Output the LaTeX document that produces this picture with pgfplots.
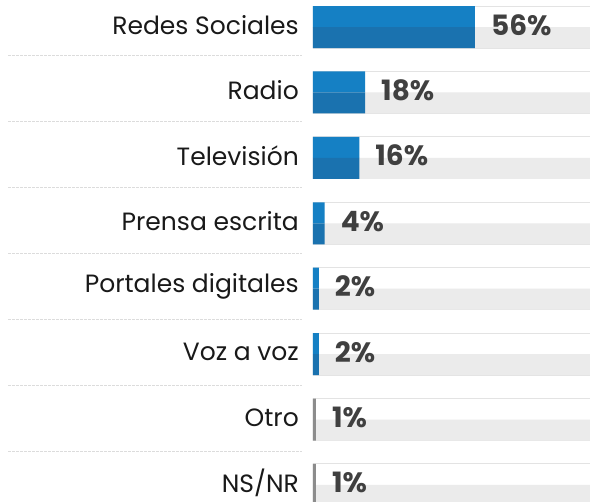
\documentclass[border=0pt]{standalone}
\usepackage{pgfplots}
\pgfplotsset{compat=1.18}
\usepackage{fontspec}
\setmainfont{Poppins}
\definecolor{bluetop}{HTML}{1580C4}
\definecolor{bluebot}{HTML}{1A72AF}
\definecolor{bgray}{HTML}{EBEBEB}
\definecolor{lline}{HTML}{E3E3E3}
\definecolor{dgray}{HTML}{404040}
\definecolor{sgray}{HTML}{8C8C8C}
\definecolor{dashc}{HTML}{DCDCDC}
\begin{document}
\begin{tikzpicture}
\useasboundingbox (0,0) rectangle (590pt,502pt);
\begin{axis}[
  at={(313pt,0pt)}, anchor=south west,
  scale only axis, width=277pt, height=502pt,
  xmin=0, xmax=95.8, ymin=-0.26, ymax=7.413,
  axis line style={draw=none}, tick style={draw=none},
  xtick=\empty,
  ytick={0,...,7},
  yticklabels={NS/NR,Otro,Voz a voz,Portales digitales,Prensa escrita,Televisión,Radio,Redes Sociales},
  yticklabel style={anchor=east, inner sep=0pt, xshift=-14pt, yshift=2pt, font=\fontsize{25}{25}\selectfont, text=black!90},
]
\addplot[xbar, bar width=42pt, bar shift=0pt, fill=white, draw=lline, line width=1pt]
  coordinates {(100,0) (100,1) (100,2) (100,3) (100,4) (100,5) (100,6) (100,7)};
\addplot[xbar, bar width=21pt, bar shift=-10.5pt, fill=bgray, draw=none]
  coordinates {(100,0) (100,1) (100,2) (100,3) (100,4) (100,5) (100,6) (100,7)};
\addplot[xbar, bar width=21pt, bar shift=10.5pt, fill=bluetop, draw=none]
  coordinates {(56,7) (18,6) (16,5) (4,4) (2,3) (2,2)};
\addplot[xbar, bar width=21pt, bar shift=-10.5pt, fill=bluebot, draw=none]
  coordinates {(56,7) (18,6) (16,5) (4,4) (2,3) (2,2)};
\addplot[xbar, bar width=42pt, bar shift=0pt, fill=sgray, draw=none]
  coordinates {(1,1) (1,0)};
\addplot[xbar, bar width=0pt, bar shift=0pt, draw=none, fill=none,
  point meta=explicit symbolic, nodes near coords,
  nodes near coords style={anchor=base west, inner sep=0pt, xshift=16pt, yshift=-8pt,
    font=\fontsize{28}{28}\selectfont\bfseries, text=dgray}]
  coordinates {(56,7) [56\%] (18,6) [18\%] (16,5) [16\%] (4,4) [4\%]
               (2,3) [2\%] (2,2) [2\%] (1,1) [1\%] (1,0) [1\%]};
\end{axis}
\foreach \k in {0,...,6}
  \draw[dashc, dash pattern=on 3pt off 1pt, line width=0.9pt]
    (8pt, {446.3pt - \k*66pt}) -- (302pt, {446.3pt - \k*66pt});
\end{tikzpicture}
\end{document}
